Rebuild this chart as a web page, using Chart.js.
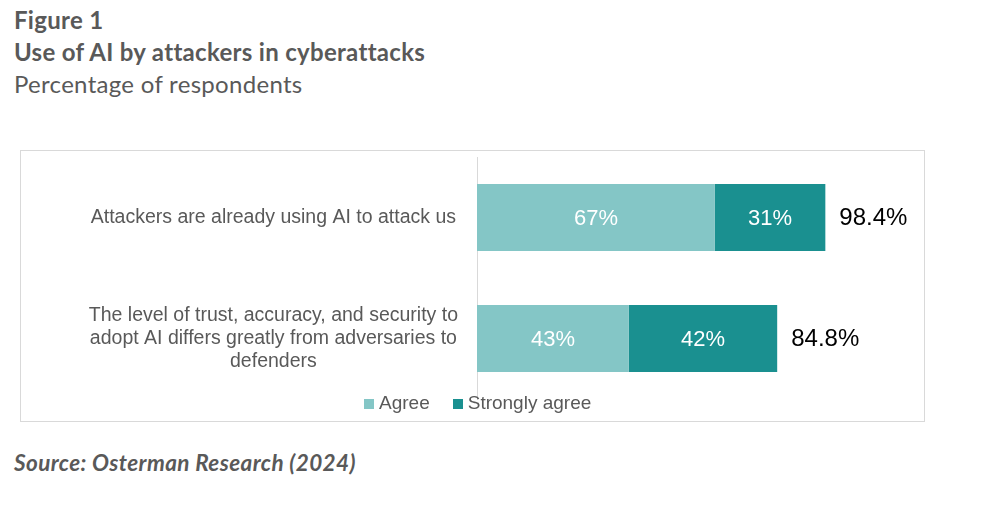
<!DOCTYPE html>
<html>
<head>
<meta charset="utf-8">
<script src="https://cdn.jsdelivr.net/npm/chart.js@4"></script>
<style>
  body { margin: 0; background: #fff; width: 996px; height: 516px; position: relative; font-family: Lato, sans-serif; color: #595959; }
  .t { position: absolute; left: 14px; font-size: 24px; line-height: 31px; letter-spacing: 0.3px; white-space: nowrap; }
  .b { font-weight: bold; }
  #box { position: absolute; left: 20px; top: 150px; width: 903px; height: 270px; border: 1px solid #d9d9d9; }
  #src { position: absolute; left: 14px; top: 449px; font-size: 22.5px; letter-spacing: 0.4px; font-weight: bold; font-style: italic; white-space: nowrap; }
  #legend { position: absolute; left: 364px; top: 392px; font-family: 'Liberation Sans', Arial, sans-serif; font-size: 19px; line-height: 22px; color: #595959; white-space: nowrap; }
  #legend span.item { margin-right: 23px; }
  #legend span.sw { display: inline-block; width: 10px; height: 10px; margin-right: 5px; vertical-align: 0px; }
</style>
</head>
<body>
<div class="t b" style="top:4px">Figure 1</div>
<div class="t b" style="top:36px">Use of AI by attackers in cyberattacks</div>
<div class="t" style="top:68px">Percentage of respondents</div>
<div id="box"><canvas id="aiChart" width="903" height="270"></canvas></div>
<div id="legend"></div>
<div id="src">Source: Osterman Research (2024)</div>
<script>
const categories = [
  'Attackers are already using AI to attack us',
  ['The level of trust, accuracy, and security to', 'adopt AI differs greatly from adversaries to', 'defenders']
];
const agreeValues = [67.2, 42.9];
const stronglyAgreeValues = [31.2, 41.9];
const totalLabels = ['98.4%', '84.8%'];

const labelFont = 'Liberation Sans, Arial, sans-serif';

// labels in the segments and totals at the end
const barLabels = {
  id: 'barLabels',
  afterDatasetsDraw(chart) {
    const ctx = chart.ctx;
    ctx.save();
    ctx.textBaseline = 'middle';
    chart.data.datasets.forEach((ds, i) => {
      chart.getDatasetMeta(i).data.forEach((bar, j) => {
        ctx.fillStyle = '#ffffff';
        ctx.font = '22px ' + labelFont;
        ctx.textAlign = 'center';
        ctx.fillText(Math.round(ds.data[j]) + '%', (bar.base + bar.x) / 2, bar.y + 1);
      });
    });
    const last = chart.getDatasetMeta(chart.data.datasets.length - 1).data;
    last.forEach((bar, j) => {
      ctx.fillStyle = '#000000';
      ctx.font = '24px ' + labelFont;
      ctx.textAlign = 'left';
      ctx.fillText(totalLabels[j], bar.x + 14, bar.y + 1);
    });
    ctx.restore();
  }
};

const chart = new Chart(document.getElementById('aiChart').getContext('2d'), {
  type: 'bar',
  data: {
    labels: categories,
    datasets: [{
      label: 'Agree',
      data: agreeValues,
      backgroundColor: '#84c6c6'
    }, {
      label: 'Strongly agree',
      data: stronglyAgreeValues,
      backgroundColor: '#1a9090'
    }]
  },
  options: {
    indexAxis: 'y',
    responsive: false,
    animation: false,
    layout: { padding: { top: 6, right: 93, bottom: 22, left: 0 } },
    datasets: { bar: { categoryPercentage: 1, barPercentage: 0.554 } },
    plugins: {
      legend: { display: false },
      tooltip: { enabled: false }
    },
    scales: {
      x: { display: false, stacked: true, min: 0, max: 100 },
      y: {
        stacked: true,
        grid: { display: false, drawTicks: false },
        border: { display: true, color: '#d9d9d9' },
        afterFit(scale) {
          scale.width = 456;
          scale.paddingTop = 0;
          scale.paddingBottom = 0;
        },
        ticks: {
          crossAlign: 'center',
          padding: 19,
          color: '#595959',
          font: { family: labelFont, size: 19.5, lineHeight: 1.18 }
        }
      }
    }
  },
  plugins: [barLabels]
});

// legend from the chart's datasets
document.getElementById('legend').innerHTML = chart.data.datasets.map(ds =>
  '<span class="item"><span class="sw" style="background:' + ds.backgroundColor + '"></span>' + ds.label + '</span>'
).join('');
</script>
</body>
</html>
